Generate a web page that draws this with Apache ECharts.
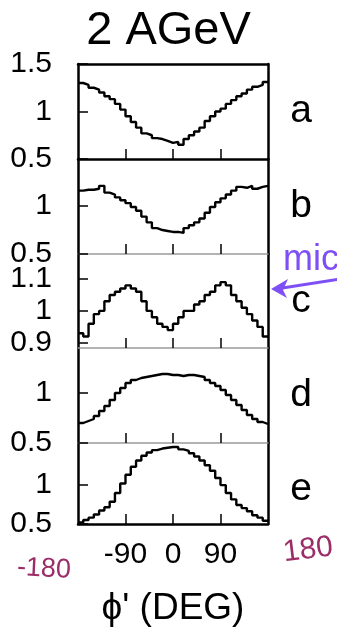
<!DOCTYPE html>
<html>
<head>
<meta charset="utf-8">
<script src="https://cdn.jsdelivr.net/npm/echarts@6/dist/echarts.min.js"></script>
<style>html,body{margin:0;padding:0;background:#fff;}#c{width:337px;height:628px;}</style>
</head>
<body>
<div id="c"></div>
<script>
// bin centres are -175..175 (10 deg bins)
const binWidth = 10;
const panelNames = ['a', 'b', 'c', 'd', 'e'];
const seriesA = [1.30,1.28,1.25,1.23,1.20,1.16,1.13,1.08,1.02,0.95,0.89,0.83,0.77,0.75,0.72,0.71,0.69,0.67,0.68,0.65,0.71,0.75,0.79,0.83,0.90,0.95,1.00,1.03,1.08,1.12,1.16,1.19,1.23,1.26,1.28,1.31];
const seriesB = [1.16,1.17,1.17,1.18,1.21,1.14,1.12,1.09,1.06,1.03,0.99,0.95,0.89,0.83,0.77,0.75,0.74,0.73,0.73,0.72,0.77,0.80,0.83,0.87,0.93,0.99,1.04,1.08,1.12,1.16,1.20,1.19,1.21,1.18,1.20,1.21];
const seriesC = [0.93,0.92,0.96,0.99,1.00,1.03,1.05,1.06,1.07,1.08,1.07,1.06,1.03,1.00,0.98,0.96,0.95,0.94,0.96,0.98,1.00,1.00,1.02,1.03,1.05,1.06,1.08,1.09,1.08,1.05,1.03,1.01,0.99,0.97,0.95,0.92];
const seriesD = [0.70,0.72,0.74,0.77,0.82,0.87,0.93,1.00,1.05,1.10,1.13,1.15,1.16,1.17,1.18,1.19,1.19,1.18,1.18,1.17,1.18,1.18,1.17,1.16,1.13,1.10,1.07,1.03,0.98,0.93,0.88,0.83,0.78,0.74,0.71,0.69];
const seriesE = [0.52,0.55,0.58,0.62,0.67,0.71,0.78,0.89,1.01,1.12,1.22,1.30,1.36,1.40,1.43,1.45,1.46,1.47,1.47,1.44,1.42,1.39,1.35,1.30,1.24,1.17,1.08,0.99,0.89,0.81,0.74,0.70,0.66,0.61,0.58,0.54];
const xTickValues = [-90, 0, 90];
const yTickValues = [[0.5, 1, 1.5], [0.5, 1], [0.9, 1, 1.1], [0.5, 1], [0.5, 1]];
const yLabelValues = [[0.5, 1, 1.5], [0.5, 1], [0.9, 1, 1.1], [0.5, 1], [0.5, 1]];
const yRanges = [[0.5, 1.5], [0.5, 1.49], [0.884, 1.178], [0.5, 1.45], [0.5, 1.52]];
const allSeries = [seriesA, seriesB, seriesC, seriesD, seriesE];

// layout
const gridTops = [64, 159, 254, 348, 443];
const gridHeights = [95, 95, 94, 95, 92];
const LEFT = 78, WIDTH = 190;
const FONT = "'Liberation Sans', Arial, Helvetica, sans-serif";

function stepData(vals) {
  const d = vals.map((v, i) => [-180 + i * binWidth, v]);
  d.push([180, vals[vals.length - 1]]);
  return d;
}

const grids = [], xAxes = [], yAxes = [], series = [], graphics = [];
for (let i = 0; i < 5; i++) {
  grids.push({left: LEFT, width: WIDTH, top: gridTops[i], height: gridHeights[i], containLabel: false});
  const black = (i === 0 || i === 4);
  xAxes.push({
    type: 'value', gridIndex: i, min: -180, max: 180, interval: 90, position: 'bottom',
    splitLine: {show: false},
    axisLine: {show: true, onZero: false, lineStyle: {color: black ? '#000' : '#9a9a9a', width: black ? 2.5 : 1.5}},
    axisTick: {show: true, inside: true, length: 10, customValues: xTickValues, lineStyle: {color: '#000', width: 1.5}},
    axisLabel: {show: i === 4, customValues: xTickValues, margin: 16, color: '#000', fontSize: 30, fontFamily: FONT},
    name: i === 4 ? "ϕ' (DEG)" : '', nameLocation: 'middle', nameGap: 66,
    nameTextStyle: {color: '#000', fontSize: 37, fontFamily: FONT}
  });
  yAxes.push({
    type: 'value', gridIndex: i, min: yRanges[i][0], max: yRanges[i][1], position: 'left',
    splitLine: {show: false},
    axisLine: {show: true, onZero: false, lineStyle: {color: '#000', width: 2.5}},
    axisTick: {show: true, inside: true, length: 10, customValues: yTickValues[i], lineStyle: {color: '#000', width: 1.5}},
    axisLabel: {show: true, customValues: yLabelValues[i], margin: 26, color: '#000', fontSize: 30, fontFamily: FONT,
      formatter: v => String(Math.round(v * 10) / 10)}
  });
  yAxes.push({
    type: 'value', gridIndex: i, min: yRanges[i][0], max: yRanges[i][1], position: 'right',
    splitLine: {show: false},
    axisLine: {show: true, onZero: false, lineStyle: {color: '#000', width: 2.5}},
    axisTick: {show: false}, axisLabel: {show: false}
  });
  series.push({
    type: 'line', xAxisIndex: i, yAxisIndex: 2 * i, step: 'end', showSymbol: false, symbol: 'none',
    data: stepData(allSeries[i]), lineStyle: {color: '#000', width: 2.4}, clip: true, animation: false
  });
  graphics.push({
    type: 'text', x: 301, y: gridTops[i] + gridHeights[i] / 2,
    style: {text: panelNames[i], fill: '#000', font: '39px ' + FONT, textAlign: 'center', textVerticalAlign: 'middle'}
  });
}
// top border of panel a
xAxes.push({
  type: 'value', gridIndex: 0, min: -180, max: 180, position: 'top',
  splitLine: {show: false}, axisLine: {show: true, onZero: false, lineStyle: {color: '#000', width: 2.5}},
  axisTick: {show: false}, axisLabel: {show: false}
});

// hand annotations
graphics.push({type: 'text', x: 283, y: 260, style: {text: 'mic', fill: '#7d4ff5', font: '36px ' + FONT, textAlign: 'left', textVerticalAlign: 'middle'}});
graphics.push({type: 'polyline', shape: {points: [[340, 279], [276, 289]]}, style: {stroke: '#7d4ff5', lineWidth: 3, fill: null}});
graphics.push({type: 'polygon', shape: {points: [[271, 289], [288, 279], [283, 290], [287, 298]]}, style: {fill: '#7d4ff5'}});
graphics.push({type: 'text', x: 44, y: 569, rotation: -0.05, style: {text: '-180', fill: '#9b2d68', font: '27px ' + FONT, textAlign: 'center', textVerticalAlign: 'middle'}});
graphics.push({type: 'text', x: 308, y: 550, rotation: 0.12, style: {text: '180', fill: '#9b2d68', font: '30px ' + FONT, textAlign: 'center', textVerticalAlign: 'middle'}});

const chart = echarts.init(document.getElementById('c'), null, {renderer: 'canvas'});
chart.setOption({
  animation: false,
  backgroundColor: '#fff',
  title: {text: '2 AGeV', left: 'center', top: 3, textStyle: {color: '#000', fontSize: 47, fontWeight: 'normal', fontFamily: FONT}},
  grid: grids, xAxis: xAxes, yAxis: yAxes, series: series,
  graphic: graphics
});
</script>
</body>
</html>
